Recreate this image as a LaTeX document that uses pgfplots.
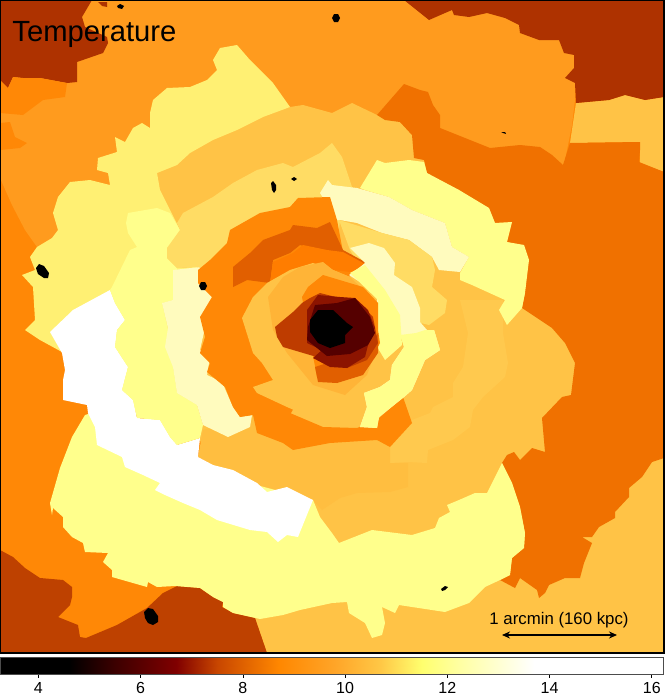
\documentclass[border=0pt]{standalone}
\usepackage{fontspec}
\setmainfont{Liberation Sans}
\usepackage{pgfplots}
\pgfplotsset{compat=1.18}
\usetikzlibrary{arrows.meta}

\definecolor{cL}{RGB}{255,136,6}
\definecolor{cT}{RGB}{255,155,30}
\definecolor{cO}{RGB}{240,113,0}
\definecolor{cB1}{RGB}{174,50,0}
\definecolor{cB2}{RGB}{190,65,0}
\definecolor{cR}{RGB}{255,195,70}
\definecolor{cR2}{RGB}{255,180,55}
\definecolor{cR3}{RGB}{255,190,64}
\definecolor{cRl}{RGB}{255,201,78}
\definecolor{cA}{RGB}{255,220,100}
\definecolor{cY}{RGB}{255,240,115}
\definecolor{cY2}{RGB}{255,255,140}
\definecolor{cC}{RGB}{255,251,190}
\definecolor{cD}{RGB}{225,95,0}
\definecolor{cI}{RGB}{255,125,0}
\definecolor{cK1}{RGB}{190,60,0}
\definecolor{cK2}{RGB}{140,20,0}
\definecolor{cK3}{RGB}{85,0,0}

\newcommand{\region}[2]{\addplot[fill=#1,draw=none] coordinates {#2} -- cycle;}

\begin{document}
\begin{tikzpicture}
\path[use as bounding box] (0pt,0pt) rectangle (332pt,348pt);
\begin{axis}[
    at={(0pt,21.5pt)}, anchor=south west,
    scale only axis, width=332pt, height=326.5pt,
    xmin=0, xmax=664, ymin=0, ymax=653, y dir=reverse,
    ticks=none, axis on top, axis line style={line width=1pt},
]
% backdrop, left orange
\region{cL}{(0,0)(664,0)(664,653)(0,653)}
% top sector
\region{cT}{(0,0)(575,0)(575,100)(572,125)(568,145)(564,165)(400,300)(37,247)(25,230)(12,205)(0,178)}
% top left
\region{cB1}{(0,0)(92,0)(82,17)(85,27)(107,37)(108,43)(103,53)(77,62)(77,82)(67,83)(40,78)(23,78)(13,77)(8,88)(0,80)}
\region{cB1}{(98,2)(107,2)(107,7)(102,6)}
\region{cL}{(0,80)(8,88)(13,77)(23,78)(40,78)(67,83)(65,97)(43,100)(23,115)(0,113)}
\region{cL}{(0,123)(10,122)(15,137)(27,143)(20,148)(0,150)}
% ring under everything
\region{cR}{(150,165)(275,95)(290,107)(303,105)(332,113)(352,103)(377,115)(400,122)(412,135)(560,300)(664,400)(664,653)(267,653)(255,618)(200,440)(180,300)}
\region{cR}{(576,103)(609,100)(625,95)(645,100)(664,97)(664,172)(640,163)(640,142)(570,143)}
% fainter bands of the ring
\region{cRl}{(460,300)(503,300)(503,333)(508,363)(505,377)(483,397)(473,410)(470,427)(453,440)(428,450)(427,463)(408,462)(390,463)(385,457)(395,435)(412,420)(430,413)(433,407)(453,397)(453,383)(463,367)(468,333)}
\region{cR3}{(203,430)(253,415)(390,440)(390,463)(408,463)(408,487)(390,492)(357,493)(340,498)(322,510)(313,500)(287,487)(267,492)(257,483)(233,470)(213,465)(198,457)}
% right orange
\region{cO}{(377,115)(404,84)(420,90)(428,92)(433,105)(440,115)(440,128)(470,140)(490,148)(520,145)(540,147)(552,155)(563,165)(570,143)(640,142)(640,150)(639,162)(664,172)
(664,458)(652,462)(642,477)(629,488)(629,497)(615,512)(615,518)(599,527)(592,537)(582,537)(592,543)(584,563)(580,578)(565,578)(549,585)(545,593)(539,598)(537,590)(520,578)(515,588)(500,580)(510,575)(512,558)(524,548)(525,533)(520,507)(512,483)(502,463)(507,455)(514,452)(520,460)(532,448)(545,452)(542,418)(562,397)(571,395)(575,363)(565,343)(552,328)(522,308)
(525,293)(527,260)(524,245)(507,242)(512,222)(495,223)(489,208)(465,197)(459,190)(435,178)(427,173)(424,160)(414,158)(412,135)(400,122)(385,120)}
% top right
\region{cB1}{(404,0)(429,20)(445,13)(452,10)(454,15)(469,17)(487,13)(505,18)(519,25)(520,33)(539,40)(559,40)(564,53)(574,55)(574,68)(565,78)(575,83)(576,103)(609,100)(625,95)(645,100)(664,97)(664,0)}
% bottom left
\region{cB2}{(0,550)(13,557)(25,568)(40,578)(63,580)(72,587)(72,597)(70,605)(58,617)(78,625)(80,637)(86,638)(117,625)(147,608)(163,593)(177,586)(200,588)(213,597)(223,602)(222,607)(233,613)(255,618)(267,653)(0,653)}
% upper yellow ring
\region{cY}{(37,247)(52,238)(58,230)(53,213)(58,197)(70,182)(90,180)(110,185)(108,173)(97,170)(98,158)(117,152)(115,137)(125,142)(133,128)(142,123)(150,128)(150,113)(153,100)(167,88)(190,87)(207,80)(217,70)(213,60)(220,48)(237,45)(250,60)(273,83)(290,107)
(263,117)(237,130)(213,140)(190,153)(177,165)(157,173)(160,190)(170,210)(180,230)(167,248)(177,268)(197,267)(200,283)(200,350)(197,405)(177,445)(62,352)(40,340)(25,330)(35,320)(33,287)(22,275)(35,270)(30,257)}
% bottom yellow ring
\region{cY2}{(85,415)(72,437)(60,468)(50,503)(52,515)(53,508)(63,517)(63,527)(72,537)(83,543)(85,552)(108,553)(103,562)(112,570)(112,577)(133,583)(147,587)(148,582)(157,587)(175,586)(200,588)(213,597)(223,602)(223,607)(233,613)(260,619)(283,615)(300,610)(332,603)(347,602)(349,613)(365,623)(372,638)(382,635)(385,623)(382,607)(395,613)(399,605)(445,612)(469,603)(485,587)(500,580)(510,575)(512,558)(524,548)(525,533)(520,507)(512,483)(502,463)(487,493)(475,493)(459,500)(447,505)(450,512)(439,518)(435,528)(412,535)(372,530)(339,543)(332,533)(320,517)(313,500)(200,470)(100,410)}
% white
\region{white}{(50,332)(73,310)(110,290)(115,303)(125,320)(117,330)(115,347)(128,367)(122,390)(133,400)(137,418)(160,420)(170,437)(177,445)(200,438)(198,457)(213,465)(233,470)(257,483)(267,492)(287,487)(313,500)(298,537)(287,535)(278,542)(267,532)(250,530)(217,520)(200,510)(183,503)(165,495)(155,490)(160,483)(143,475)(125,467)(122,457)(97,445)(95,427)(88,413)(87,405)(63,400)(63,380)(65,370)(62,353)}
% light yellow ribbon
\region{cY2}{(128,213)(157,208)(170,213)(180,230)(180,240)(167,248)(167,258)(177,268)(173,300)(162,303)(168,330)(173,367)(177,393)(197,405)(203,425)(200,438)(177,445)(170,437)(160,420)(137,418)(133,400)(122,390)(128,367)(115,347)(117,330)(125,320)(115,303)(110,290)(112,287)(130,250)(137,247)(128,233)(126,223)}
% cream left ribbon
\region{cC}{(200,267)(173,270)(173,300)(162,303)(168,328)(165,347)(173,367)(177,393)(197,405)(203,425)(228,437)(250,427)(252,415)(240,417)(232,405)(222,382)(207,375)(210,357)(200,350)(212,297)(200,283)}
% ring above disc
\region{cA}{(180,230)(177,223)(183,213)(213,197)(233,183)(257,170)(283,163)(293,167)(320,153)(332,143)(342,157)(352,187)(355,190)(340,220)(337,250)(210,270)(197,267)(177,268)(167,258)(167,248)}
% right wedge
\region{cY2}{(360,188)(377,160)(385,163)(409,160)(424,162)(427,173)(459,190)(489,208)(495,223)(512,222)(507,242)(524,245)(529,260)(525,293)(522,308)(507,325)(499,310)(505,300)(472,285)(460,280)(460,273)(469,257)(452,247)(445,223)(412,210)(389,197)(365,190)}
% cream band
\region{cC}{(320,193)(328,180)(332,185)(357,188)(389,197)(412,210)(445,223)(452,247)(469,257)(460,272)(439,270)(432,257)(409,240)(382,233)(357,223)(340,220)(337,220)}
\region{cA}{(339,220)(382,233)(409,240)(432,257)(435,270)(432,287)(447,300)(445,313)(429,325)(409,320)(380,300)(350,250)}
% orange disc
\region{cL}{(337,220)(330,197)(298,198)(290,207)(260,213)(230,230)(227,243)(210,260)(198,270)(198,283)(212,297)(200,317)(205,337)(200,353)(210,363)(207,372)(225,387)(233,407)(240,417)(253,415)(290,415)(330,340)(350,275)(367,263)(343,252)}
\region{cD}{(233,267)(250,253)(263,240)(290,230)(293,225)(317,228)(330,222)(343,250)(367,263)(350,270)(343,257)(300,245)(290,253)(273,260)(270,283)(247,280)(233,287)}
\region{cI}{(270,283)(273,262)(293,253)(303,245)(327,250)(343,252)(367,265)(350,272)(333,270)(313,263)(290,270)(273,280)}
\region{cR}{(242,318)(253,297)(267,283)(290,270)(313,263)(333,270)(350,277)(377,303)(380,323)(377,347)(403,330)(412,337)(403,357)(390,373)(387,387)(363,393)(367,410)(333,427)(287,407)(257,393)(253,387)(273,380)(262,363)(253,353)}
\region{cR2}{(268,297)(283,277)(300,267)(323,262)(333,270)(350,277)(377,303)(380,323)(377,347)(367,375)(345,395)(313,385)(287,353)(273,330)}
% lower orange band
\region{cL}{(253,415)(273,403)(290,413)(323,427)(357,428)(377,420)(403,397)(412,423)(390,447)(377,440)(330,443)(293,450)(283,443)(257,433)}
% inner ribbon
\region{cC}{(350,248)(369,243)(384,248)(395,263)(394,275)(412,287)(420,308)(420,322)(427,330)(434,330)(440,350)(425,360)(412,390)(404,397)(379,417)(377,428)(360,427)(367,407)(364,393)(380,387)(390,380)(392,365)(404,347)(400,330)(377,325)(377,293)(349,275)(360,267)(365,263)}
\region{cY2}{(350,273)(365,265)(385,290)(400,315)(402,345)(385,360)(376,345)(378,300)}
\region{cY2}{(416,333)(425,330)(434,330)(440,350)(425,360)(412,390)(404,397)(379,417)(377,428)(360,427)(367,407)(364,393)(380,387)(390,380)(392,365)(404,347)(400,335)}
% centre
\region{cL}{(308,287)(323,275)(363,287)(378,303)(378,330)(380,343)(367,367)(353,377)(330,382)(317,377)(302,297)}
\region{cD}{(315,367)(367,350)(378,333)(378,353)(363,375)(337,383)(318,382)}
\region{cK1}{(275,327)(293,312)(302,303)(310,298)(320,293)(340,298)(355,298)(373,317)(378,343)(367,360)(347,368)(317,357)(310,355)(283,347)(277,337)}
\region{cK2}{(307,310)(318,295)(340,297)(355,298)(368,310)(375,328)(368,345)(365,357)(347,368)(330,367)(313,358)(322,350)(307,343)}
\region{cK3}{(308,327)(315,305)(337,303)(355,298)(370,317)(375,333)(368,345)(350,354)(327,356)(307,340)}
\region{black}{(310,320)(318,310)(333,310)(347,323)(353,327)(345,335)(345,343)(330,348)(318,343)(310,332)}
% masked point sources
\region{black}{(117,6)(120,4)(124,6)(122,9)(118,8)}
\region{black}{(332,18)(334,14)(338,14)(340,18)(338,22)(334,22)}
\region{black}{(271,183)(273,181)(276,185)(276,190)(274,193)(272,190)}
\region{black}{(291,179)(294,177)(297,179)(294,181)}
\region{black}{(36,268)(39,264)(44,266)(49,273)(48,278)(44,278)(38,274)}
\region{black}{(199,286)(201,282)(205,282)(207,286)(205,290)(201,290)}
\region{black}{(144,612)(148,608)(153,609)(158,616)(158,622)(153,625)(148,623)(145,618)}
\region{black}{(441,589)(445,586)(448,587)(445,590)(442,591)}
\region{black}{(501,132)(505,132)(506,134)(503,133)}
% labels
\addplot[black,line width=0.75pt,{Stealth[length=4pt,width=3.5pt]}-{Stealth[length=4pt,width=3.5pt]}] coordinates {(502,635)(617,635)};
\node[anchor=west,font=\fontsize{14.6}{16}\selectfont,inner sep=0pt] at (axis cs:12,34) {Temperature};
\node[font=\fontsize{8.4}{10}\selectfont,inner sep=0pt] at (axis cs:559,620) {1 arcmin (160 kpc)};
\end{axis}
% colour bar
\begin{axis}[
    at={(0pt,10.5pt)}, anchor=south west,
    scale only axis, width=331.5pt, height=9pt,
    xmin=3.25, xmax=16.22, ymin=0, ymax=1,
    ytick=\empty, xtick={4,6,8,10,12,14,16},
    tick style={black,line width=0.3pt}, major tick length=1.5pt,
    tick align=outside, xtick pos=bottom,
    x tick label style={font=\fontsize{8}{9}\selectfont},
    /pgf/number format/assume math mode=true,
    tick label style={inner sep=0pt}, xticklabel shift=2pt,
    axis line style={black!70,line width=0.5pt}, axis on top,
    view={0}{90},
    colormap={tempmap}{
      rgb255(3.25)=(0,0,0) rgb255(4.6)=(0,0,0) rgb255(5.5)=(60,0,0) rgb255(6.7)=(128,0,0)
      rgb255(7.5)=(200,70,0) rgb255(8.7)=(255,135,0) rgb255(9.8)=(255,165,40)
      rgb255(10.7)=(255,200,70) rgb255(11.5)=(255,255,110) rgb255(12.2)=(255,255,160)
      rgb255(13)=(255,255,210) rgb255(13.7)=(255,255,255) rgb255(16.22)=(255,255,255)},
]
\addplot3[surf,shader=interp,mesh/rows=2,point meta=x] coordinates {
  (3.25,0,0) (16.22,0,0)

  (3.25,1,0) (16.22,1,0)
};
\end{axis}
\end{tikzpicture}
\end{document}
